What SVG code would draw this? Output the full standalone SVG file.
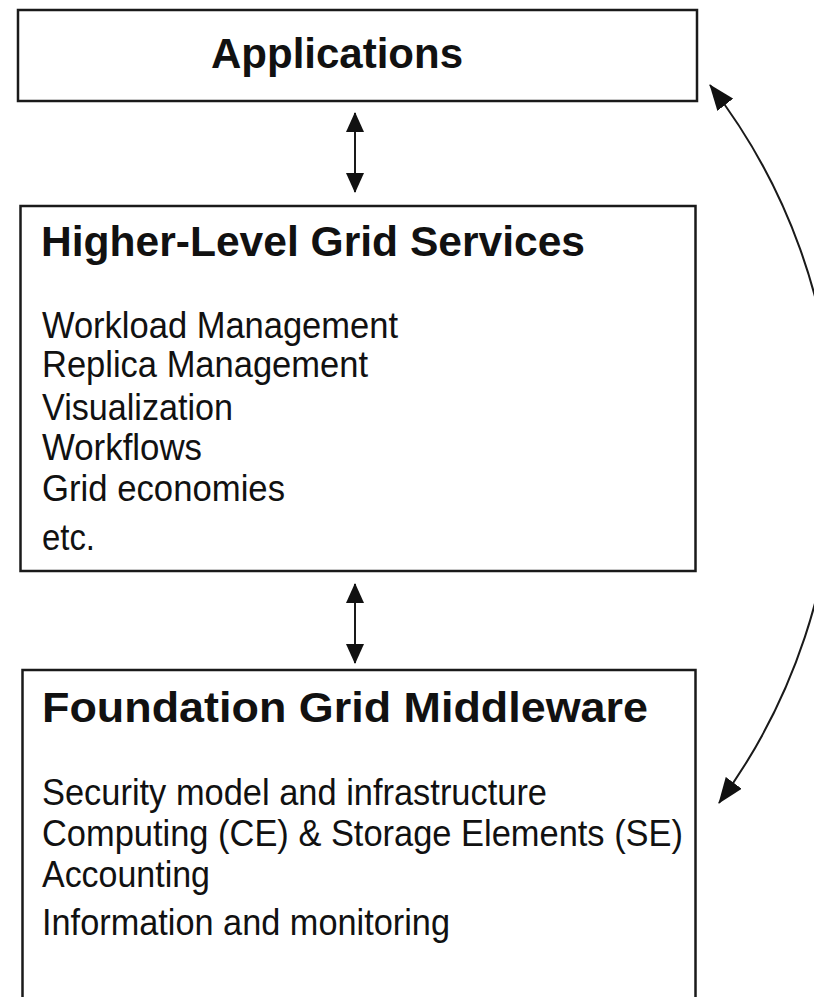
<svg xmlns="http://www.w3.org/2000/svg" width="814" height="997" viewBox="0 0 814 997">
  <style>
    .box { fill: #ffffff; stroke: #1a1a1a; stroke-width: 2.5; }
    .head { font-family: "Liberation Sans", Arial, sans-serif; font-weight: bold; font-size: 42px; fill: #111111; }
    .item { font-family: "Liberation Sans", Arial, sans-serif; font-size: 37px; fill: #111111; }
    .link { fill: none; stroke: #1a1a1a; stroke-width: 2; }
  </style>
  <defs>
    <!-- solid triangular heads; both ends of each connector carry one -->
    <marker id="head" viewBox="0 0 20 18" refX="19" refY="9" markerWidth="20" markerHeight="18" markerUnits="userSpaceOnUse" orient="auto-start-reverse">
      <path d="M0,0 L20,9 L0,18 Z" fill="#111111"/>
    </marker>
    <marker id="headArc" viewBox="0 0 26 20" refX="25" refY="10" markerWidth="26" markerHeight="20" markerUnits="userSpaceOnUse" orient="auto-start-reverse">
      <path d="M0,0 L26,10 L0,20 Z" fill="#111111"/>
    </marker>
  </defs>

  <rect width="814" height="997" fill="#ffffff"/>

  <g id="applications">
    <rect class="box" x="18" y="10" width="679" height="91"/>
    <text class="head" x="211" y="68" textLength="252" lengthAdjust="spacingAndGlyphs">Applications</text>
  </g>

  <g id="higher-level-services">
    <rect class="box" x="20.5" y="206" width="675" height="365"/>
    <text class="head" x="41" y="256" textLength="544" lengthAdjust="spacingAndGlyphs">Higher-Level Grid Services</text>
    <text class="item" x="42" y="338" textLength="356" lengthAdjust="spacingAndGlyphs">Workload Management</text>
    <text class="item" x="42" y="377" textLength="326" lengthAdjust="spacingAndGlyphs">Replica Management</text>
    <text class="item" x="42" y="420" textLength="191" lengthAdjust="spacingAndGlyphs">Visualization</text>
    <text class="item" x="42" y="460" textLength="160" lengthAdjust="spacingAndGlyphs">Workflows</text>
    <text class="item" x="42" y="501" textLength="243" lengthAdjust="spacingAndGlyphs">Grid economies</text>
    <text class="item" x="42" y="550" textLength="53" lengthAdjust="spacingAndGlyphs">etc.</text>
  </g>

  <g id="foundation-middleware">
    <rect class="box" x="22.5" y="670" width="673" height="345"/>
    <text class="head" x="42" y="722" textLength="606" lengthAdjust="spacingAndGlyphs">Foundation Grid Middleware</text>
    <text class="item" x="42" y="805" textLength="505" lengthAdjust="spacingAndGlyphs">Security model and infrastructure</text>
    <text class="item" x="42" y="846" textLength="641" lengthAdjust="spacingAndGlyphs">Computing (CE) &amp; Storage Elements (SE)</text>
    <text class="item" x="42" y="887" textLength="168" lengthAdjust="spacingAndGlyphs">Accounting</text>
    <text class="item" x="42" y="935" textLength="408" lengthAdjust="spacingAndGlyphs">Information and monitoring</text>
  </g>

  <g id="connectors">
    <line class="link" x1="355" y1="113" x2="355" y2="192" marker-start="url(#head)" marker-end="url(#head)"/>
    <line class="link" x1="355" y1="584" x2="355" y2="663" marker-start="url(#head)" marker-end="url(#head)"/>
    <path class="link" d="M 710 85 A 595 595 0 0 1 719 803" marker-start="url(#headArc)" marker-end="url(#headArc)"/>
  </g>
</svg>
